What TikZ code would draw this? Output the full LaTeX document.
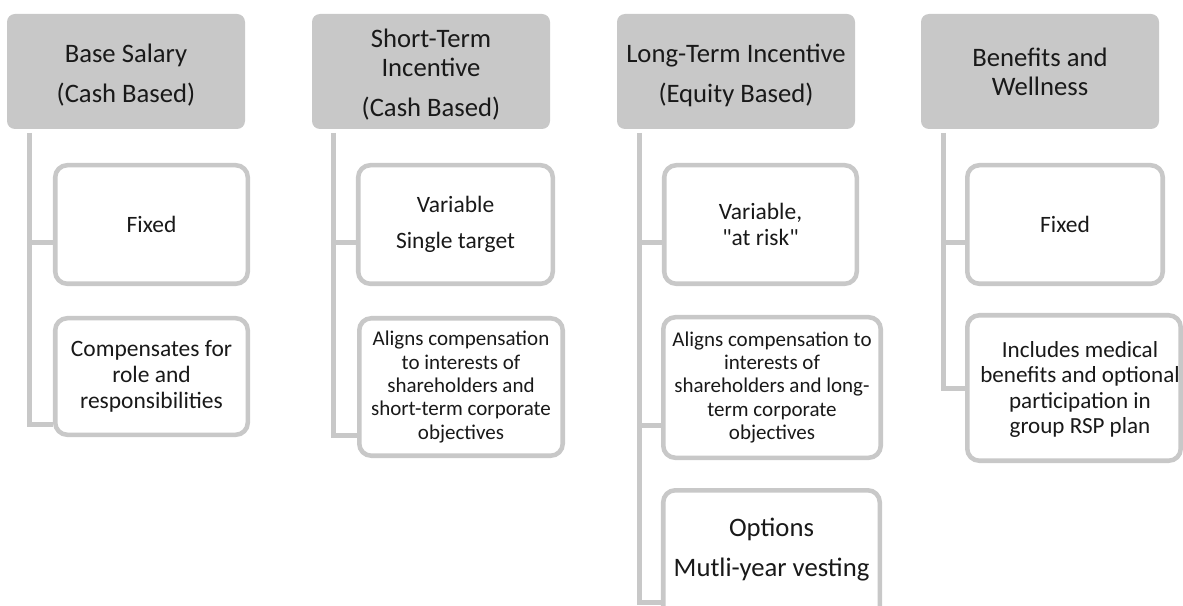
\documentclass[tikz,border=0pt]{standalone}
\usepackage{fontspec}
\setmainfont{Carlito}[Ligatures=TeXOff]
\definecolor{gc}{RGB}{200,200,200}
\definecolor{tc}{RGB}{25,25,25}
\begin{document}
\begin{tikzpicture}[x=0.75pt,y=-0.75pt,
  hdr/.style={fill=gc, rounded corners=6pt, minimum width=178.5pt, minimum height=86.25pt, inner sep=0pt},
  hdrtxt/.style={align=center, inner sep=0pt, text=tc, font=\fontsize{20}{21.75}\selectfont},
  childbox/.style={draw=gc, line width=3.4pt, fill=white, rounded corners=9pt, inner sep=0pt,
    align=center, text=tc, font=\fontsize{17.6}{19.5}\selectfont},
  smalltxt/.style={font=\fontsize{15.75}{17.5}\selectfont},
  bigtxt/.style={font=\fontsize{20}{21.75}\selectfont},
  freetxt/.style={align=center, inner sep=0pt, text=tc},
  conn/.style={draw=gc, line width=3.75pt}
]
\useasboundingbox (0,0) rectangle (1183,606);
\fill[white] (0,0) rectangle (1183,606);
\clip (0,0) rectangle (1183,606);

% headers
\node[hdr] (h1) at (126,71.5) {};
\node[hdrtxt] (h1t) at (126,75) {Base Salary\\[8.25pt](Cash Based)};
\node[hdr] (h2) at (431,71.5) {};
\node[hdrtxt] (h2t) at (431,75) {Short-Term\\Incentive\\[8.25pt](Cash Based)};
\node[hdr] (h3) at (736,71.5) {};
\node[hdrtxt] (h3t) at (736,75) {Long-Term Incentive\\[8.25pt](Equity Based)};
\node[hdr] (h4) at (1040,71.5) {};
\node[hdrtxt] (h4t) at (1040,71.5) {Benefits and\\Wellness};

% column 1
\node[childbox, minimum width=144.4pt, minimum height=88.9pt] (b11) at (151.5,224.5) {Fixed};
\node[childbox, minimum width=144.4pt, minimum height=87.4pt] (b12) at (151.5,376.5) {Compensates for\\role and\\responsibilities};

% column 2
\node[childbox, minimum width=145.9pt, minimum height=88.9pt] (b21) at (455.5,224.5) {Variable\\[7.2pt]Single target};
\node[childbox, smalltxt, minimum width=152.6pt, minimum height=103.1pt] (b22) at (461,387) {Aligns compensation\\to interests of\\shareholders and\\short-term corporate\\objectives};

% column 3
\node[childbox, minimum width=144.4pt, minimum height=88.9pt] (b31) at (760.5,224.5) {Variable,\\"at risk"};
\node[childbox, smalltxt, minimum width=163.1pt, minimum height=105.4pt] (b32) at (772,387.5) {Aligns compensation to\\interests of\\shareholders and long-\\term corporate\\objectives};
\node[childbox, minimum width=162.4pt, minimum height=103.1pt] (b33) at (771.5,559) {};
\node[freetxt, bigtxt] (t33) at (771.5,550) {Options\\[8.25pt]Mutli-year vesting};

% column 4
\node[childbox, minimum width=146.6pt, minimum height=88.9pt] (b41) at (1065,224.5) {Fixed};
\node[childbox, minimum width=160.1pt, minimum height=109.1pt] (b42) at (1074,388) {};
\node[freetxt, font=\fontsize{17.3}{19.2}\selectfont] (t42) at (1080,389.5) {Includes medical\\benefits and optional\\participation in\\group RSP plan};

% connectors
\coordinate (v1) at (29,133);
\coordinate (j11) at (29,243);
\coordinate (j12) at (29,424);
\draw[conn] (v1) -- (j12) -- (b12.west |- j12);
\draw[conn] (j11) -- (b11.west |- j11);

\coordinate (v2) at (333.5,133);
\coordinate (j21) at (333.5,243);
\coordinate (j22) at (333.5,435);
\draw[conn] (v2) -- (j22) -- (b22.west |- j22);
\draw[conn] (j21) -- (b21.west |- j21);

\coordinate (v3) at (639.5,133);
\coordinate (j31) at (639.5,243);
\coordinate (j32) at (639.5,425);
\coordinate (j33) at (639.5,602.5);
\draw[conn] (v3) -- (j33) -- (b33.west |- j33);
\draw[conn] (j31) -- (b31.west |- j31);
\draw[conn] (j32) -- (b32.west |- j32);

\coordinate (v4) at (943.5,133);
\coordinate (j41) at (943.5,243);
\coordinate (j42) at (943.5,388);
\draw[conn] (v4) -- (j42) -- (b42.west |- j42);
\draw[conn] (j41) -- (b41.west |- j41);
\end{tikzpicture}
\end{document}
